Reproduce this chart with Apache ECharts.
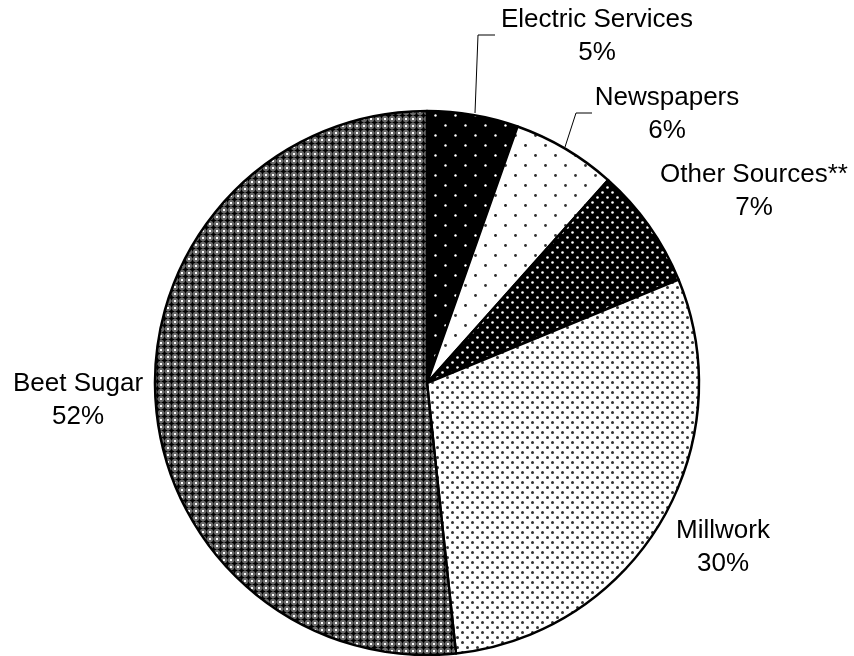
<!DOCTYPE html>
<html>
<head>
<meta charset="utf-8">
<script src="https://cdn.jsdelivr.net/npm/echarts@6/dist/echarts.min.js"></script>
<style>
html,body{margin:0;padding:0;background:#fff;}
#chart{width:854px;height:656px;}
</style>
</head>
<body>
<div id="chart"></div>
<script>
// ---- data ----
const categories = ['Electric Services', 'Newspapers', 'Other Sources**', 'Millwork', 'Beet Sugar'];
const shares = [5.4, 6.2, 7.2, 29.5, 51.7];

// ---- pattern helpers ----
function makeDots(size, bg, fg, r, pts) {
  const c = document.createElement('canvas');
  c.width = size; c.height = size;
  const g = c.getContext('2d');
  g.fillStyle = bg; g.fillRect(0, 0, size, size);
  g.fillStyle = fg;
  pts.forEach(p => { g.beginPath(); g.arc(p[0], p[1], r, 0, Math.PI * 2); g.fill(); });
  return c;
}
function makeStars() {
  const s = 7;
  const c = document.createElement('canvas');
  c.width = s; c.height = s;
  const g = c.getContext('2d');
  g.fillStyle = '#6a6a6a'; g.fillRect(0, 0, s, s);
  g.fillStyle = '#000';
  // 4-point star at centre
  g.beginPath();
  g.moveTo(3.5, 0.0); g.lineTo(4.6, 2.4); g.lineTo(7.0, 3.5); g.lineTo(4.6, 4.6);
  g.lineTo(3.5, 7.0); g.lineTo(2.4, 4.6); g.lineTo(0.0, 3.5); g.lineTo(2.4, 2.4);
  g.closePath(); g.fill();
  g.fillStyle = '#fff';
  g.fillRect(0, 0, 1, 1); g.fillRect(6, 0, 1, 1); g.fillRect(0, 6, 1, 1); g.fillRect(6, 6, 1, 1);
  return c;
}
const patterns = [
  makeDots(20, '#000', '#fff', 1.2, [[5.5, 5.5], [15.5, 15.5]]),
  makeDots(20, '#fff', '#333', 1.4, [[5.5, 5.5], [15.5, 15.5]]),
  makeDots(10, '#000', '#fff', 1.3, [[2.5, 2.5], [7.5, 7.5]]),
  makeDots(10, '#fff', '#333', 1.5, [[2.5, 2.5], [7.5, 7.5]]),
  makeStars()
];

// ---- label layout (page positions) ----
const labelPos = [
  {x: 597, y: 36, line: [[475, 113], [478, 35], [495, 35]]},
  {x: 667, y: 114, line: [[565, 147], [576, 113], [592, 113]]},
  {x: 754, y: 191, line: null},
  {x: 723, y: 547, line: null},
  {x: 78, y: 400, line: null}
];

const chart = echarts.init(document.getElementById('chart'), null, {renderer: 'canvas'});
chart.setOption({
  animation: false,
  backgroundColor: '#fff',
  series: [{
    type: 'pie',
    center: [427, 383],
    radius: 272,
    startAngle: 90,
    clockwise: true,
    avoidLabelOverlap: false,
    silent: true,
    data: categories.map((n, i) => ({
      name: n,
      value: shares[i],
      itemStyle: {color: {image: patterns[i], repeat: 'repeat'}},
      labelLine: {show: !!labelPos[i].line}
    })),
    itemStyle: {borderColor: '#000', borderWidth: 2.5},
    label: {
      show: true,
      position: 'outside',
      formatter: p => p.name + '\n' + Math.round(p.percent) + '%',
      fontFamily: 'Liberation Sans, Arial, sans-serif',
      fontSize: 26,
      lineHeight: 33,
      color: '#000',
      align: 'center'
    },
    labelLine: {show: true, lineStyle: {color: '#000', width: 1}},
    labelLayout: function (params) {
      const L = labelPos[params.dataIndex];
      const o = {x: L.x, y: L.y, align: 'center', verticalAlign: 'middle'};
      if (L.line) o.labelLinePoints = L.line;
      return o;
    }
  }]
});
</script>
</body>
</html>
